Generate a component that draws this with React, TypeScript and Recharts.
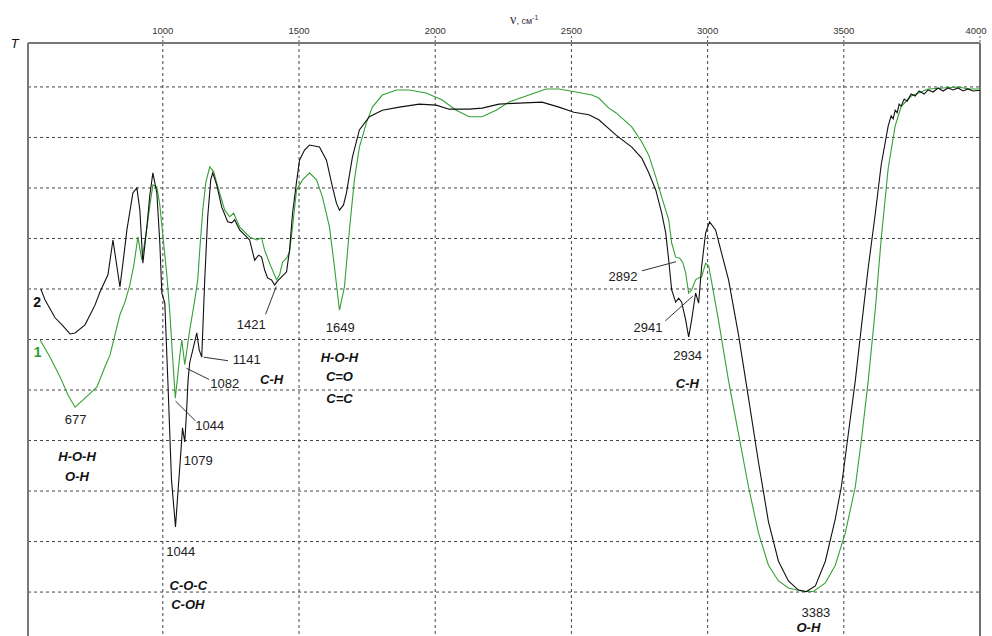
import React from 'react';
import { LineChart, Line, XAxis, YAxis, ReferenceLine, ReferenceDot } from 'recharts';

// Sample 2 (black) – wavenumber, cm-1
const sample2W = [552, 567.8, 604.4, 630, 659.3, 677.6, 714.3, 750.9, 769.2, 798.5, 816.9, 842.5, 857.1, 868.1, 890.1, 904.7, 915.7, 926.7, 941.4, 952.4, 963.4, 978, 989, 996.3, 1007.3, 1018.3, 1031.8, 1046.5, 1056, 1065.9, 1072.2, 1080.6, 1086.8, 1092.7, 1098.9, 1109.9, 1124.6, 1133.7, 1142.8, 1153.8, 1164.8, 1175.8, 1183.2, 1197.8, 1216.2, 1238.1, 1252.8, 1263.7, 1282, 1300.4, 1318.7, 1337, 1351.6, 1362.6, 1373.6, 1384.6, 1399.3, 1410.3, 1424.9, 1439.6, 1454.2, 1465.2, 1476.2, 1490.9, 1501.8, 1520.2, 1538.5, 1575.1, 1600.7, 1622.7, 1637.3, 1648.4, 1663, 1674, 1696, 1721.6, 1758.2, 1805.9, 1868.1, 1941.4, 2003.6, 2051.3, 2124.5, 2172.2, 2234.4, 2307.7, 2392, 2454.2, 2509.2, 2564.1, 2600.7, 2663, 2721.6, 2758.3, 2783.9, 2809.6, 2831.5, 2846.2, 2857.2, 2868.1, 2882.8, 2893.8, 2904.7, 2919.4, 2930.4, 2941.4, 2956, 2967, 2978, 2992.7, 3007.3, 3029.3, 3051.3, 3076.9, 3113.5, 3150.2, 3186.8, 3223.4, 3260.1, 3296.7, 3333.3, 3362.6, 3395.6, 3432.2, 3468.8, 3490.9, 3516.5, 3542.1, 3564.1, 3589.6, 3615.3, 3637.3, 3663, 3674, 3681.3, 3688.6, 3695.9, 3703.3, 3710.6, 3721.6, 3732.5, 3747.3, 3761.9, 3776.6, 3794.9, 3809.6, 3827.9, 3846.2, 3864.5, 3882.8, 3901.2, 3919.5, 3937.7, 3956.1, 3974.4, 3992.7, 4000];
// Sample 2 (black) – transmittance
const sample2T = [60, 57.8, 54.3, 52.9, 51.1, 51.3, 52.9, 56.8, 59.4, 62.8, 69.7, 60.4, 66.7, 71.7, 79, 80, 75.6, 65.1, 72.3, 78.6, 83, 79, 69.1, 59.2, 57.2, 42, 22.2, 12.9, 20.2, 27.5, 32.5, 29.7, 35.4, 42, 45.5, 47.9, 51.3, 47.9, 46.5, 61.8, 74.3, 81.6, 83, 80.6, 76.2, 73.3, 73.1, 73.7, 71.7, 70.7, 69.7, 65.7, 66.7, 66.3, 63.8, 62.2, 61.8, 60.8, 61.8, 62.6, 63.4, 67.7, 75, 81.2, 85.5, 87.5, 88.5, 88.1, 85.5, 80.2, 77, 75.6, 76.6, 79, 86.1, 91.5, 94.1, 95.4, 96, 96.6, 96.4, 95.6, 95.6, 95.8, 96.6, 96.8, 97, 96, 95, 94.5, 93.5, 90.5, 88.1, 85.9, 83, 79.6, 75, 71.1, 65.7, 59.8, 57.4, 58.2, 57.4, 53.9, 50.5, 53.9, 59.2, 57.2, 64.4, 71.1, 73.3, 71.7, 67.1, 61.8, 50.9, 38.4, 25.7, 13.9, 6.1, 2.2, 0.4, 0.1, 1.2, 6.1, 14.5, 20.8, 31.3, 41.8, 52.3, 64.2, 74.8, 84.6, 92.3, 94.3, 93.7, 95.4, 94.9, 96.6, 96.2, 97.6, 97.2, 98.6, 98.2, 99.2, 98.6, 99.4, 99, 99.8, 99.2, 99.8, 99.4, 99.8, 99.2, 99.6, 99.2, 99.3, 99.3];

// Sample 1 (green) – wavenumber, cm-1
const sample1W = [549.4, 586.1, 622.7, 652, 677.6, 714.3, 758.2, 787.5, 805.9, 824.2, 842.5, 860.8, 879.1, 893.8, 908.4, 923.1, 941.4, 952.4, 963.4, 978, 989, 1000, 1014.6, 1025.6, 1036.6, 1045.8, 1055, 1062.3, 1069.6, 1080.6, 1098.9, 1117.2, 1128.2, 1135.5, 1146.5, 1157.5, 1172.2, 1186.8, 1197.8, 1227.1, 1245.4, 1260.1, 1282, 1318.7, 1344.3, 1362.6, 1373.6, 1392, 1417.6, 1428.6, 1439.6, 1454.2, 1465.2, 1476.2, 1490.9, 1512.9, 1538.5, 1564.1, 1586.1, 1611.7, 1630, 1648.4, 1666.7, 1685, 1703.3, 1721.6, 1747.3, 1769.2, 1805.9, 1857.2, 1904.7, 1967, 2025.6, 2076.9, 2124.5, 2172.2, 2223.4, 2271.1, 2344.3, 2406.6, 2454.2, 2516.5, 2575.1, 2600.7, 2637.4, 2663, 2721.6, 2758.3, 2783.9, 2809.6, 2831.5, 2857.2, 2868.1, 2882.8, 2897.4, 2908.4, 2919.4, 2930.4, 2941.4, 2956, 2967, 2978, 2992.7, 3003.7, 3014.7, 3040.3, 3076.9, 3113.5, 3150.2, 3186.8, 3223.4, 3260.1, 3296.7, 3351.6, 3388.3, 3432.2, 3468.8, 3505.5, 3542.1, 3564.1, 3589.6, 3615.3, 3637.3, 3663, 3688.6, 3710.6, 3747.3, 3809.6, 3864.5, 3919.4, 3960, 4000];
// Sample 1 (green) – transmittance
const sample1T = [49.9, 46.5, 42.6, 39, 36.6, 38.4, 40.6, 44.6, 46.9, 50.9, 54.9, 57.4, 60.8, 64.8, 70.3, 65.7, 72.1, 76.6, 80.6, 80.2, 76.6, 70.7, 62.8, 55.4, 45.9, 38.4, 43, 46.9, 49.9, 45, 51.9, 57.8, 61.8, 67.7, 75.6, 81, 84.2, 83.2, 81, 75.6, 74.3, 75, 72.3, 70.3, 69.7, 70.1, 67.7, 65.1, 61.8, 62.8, 65.3, 66.1, 67.3, 72.3, 79.6, 81.6, 83, 81.6, 78.2, 72.3, 64.4, 55.8, 60.4, 71.7, 81.6, 88.1, 92.9, 96, 98.4, 99.4, 99.4, 98.8, 97.4, 95.4, 94.1, 94.1, 95.4, 97, 98.4, 99.6, 99.6, 99, 98.4, 97.8, 95.8, 94.9, 92.1, 89.1, 86.5, 82.2, 78.2, 73.7, 69.1, 66.3, 66.1, 65.3, 63.2, 59.2, 59.8, 61.8, 62.2, 62.4, 65.1, 64.6, 61.4, 53.7, 41.8, 31.3, 20.8, 11.7, 5.3, 2.2, 0.8, 0.1, 0.1, 1.8, 5.3, 11.7, 20.8, 29.9, 41.8, 55.8, 69.9, 83.9, 92.3, 96.1, 98.2, 99.6, 99.8, 100, 99.6, 99.6];

const xTicks = [1000, 1500, 2000, 2500, 3000, 3500, 4000];
const xGrid = [1000, 1500, 2000, 2500, 3000, 3500];
const yGrid = [0, 10, 20, 30, 40, 50, 60, 70, 80, 90, 100];

const X_MIN = 505;
const X_MAX = 4000;
const Y_MIN = -8.7;
const Y_MAX = 108.7;

// Peak wavenumber labels
const peakLabels = [
  { text: '677', w: 679.5, t: 34.1 },
  { text: '1044', w: 1172.2, t: 32.9 },
  { text: '1079', w: 1130, t: 26.1 },
  { text: '1044', w: 1065.9, t: 8.0 },
  { text: '1082', w: 1227.1, t: 41.3 },
  { text: '1141', w: 1307.7, t: 46.1 },
  { text: '1421', w: 1324.9, t: 53.0 },
  { text: '1649', w: 1651.3, t: 52.4 },
  { text: '2892', w: 2689.3, t: 62.4 },
  { text: '2941', w: 2780.9, t: 52.4 },
  { text: '2934', w: 2926.7, t: 46.8 },
  { text: '3383', w: 3397.5, t: -4.1 },
];

// Bond assignment labels
const bondLabels = [
  { text: 'H-O-H', w: 685, t: 26.8 },
  { text: 'O-H', w: 685, t: 22.8 },
  { text: 'C-O-C', w: 1093.4, t: 1.25 },
  { text: 'C-OH', w: 1091.6, t: -2.4 },
  { text: 'C-H', w: 1399.3, t: 42.0 },
  { text: 'H-O-H', w: 1648.4, t: 46.5 },
  { text: 'C=O', w: 1648.4, t: 42.6 },
  { text: 'C=C', w: 1648.4, t: 38.4 },
  { text: 'C-H', w: 2925.6, t: 41.3 },
  { text: 'O-H', w: 3370, t: -7.0 },
];

// Leader lines from peaks to labels
const leaders = [
  { w1: 1046.5, t1: 37.8, w2: 1119.7, t2: 33.9 },
  { w1: 1086.8, t1: 44.3, w2: 1169.6, t2: 42.1 },
  { w1: 1150.2, t1: 46.5, w2: 1239.2, t2: 45.8 },
  { w1: 1416.4, t1: 60.5, w2: 1377.3, t2: 55.0 },
  { w1: 2759.4, t1: 63.6, w2: 2884.0, t2: 65.4 },
  { w1: 2845.0, t1: 53.7, w2: 2946.0, t2: 58.6 },
];

// Series name labels
const seriesLabels = [
  { text: '2', w: 538.5, t: 57.5, color: '#111111' },
  { text: '1', w: 540.3, t: 47.6, color: '#2f9a2f' },
];

const sample2 = sample2W.map((w, i) => ({ w, t: sample2T[i] }));
const sample1 = sample1W.map((w, i) => ({ w, t: sample1T[i] }));

const SANS = '"Liberation Sans", Arial, sans-serif';

const renderTick = (p: any) => (
  <text x={p.x} y={p.y} textAnchor="middle" fontSize={9.5} fill="#333" fontFamily={SANS}>
    {p.payload.value}
  </text>
);

export default function App() {
  return (
    <div style={{ position: 'absolute', left: 0, top: 0, width: 992, height: 636, background: '#fff' }}>
      <LineChart width={992} height={636} margin={{ top: 13, right: 12, bottom: 0, left: 28 }}>
        <XAxis
          xAxisId={0}
          dataKey="w"
          type="number"
          orientation="top"
          domain={[X_MIN, X_MAX]}
          ticks={xTicks}
          allowDataOverflow
          height={30}
          tickSize={7}
          tickMargin={2}
          tick={renderTick}
          tickLine={{ stroke: '#555', strokeDasharray: '2 2' }}
          axisLine={{ stroke: '#777', strokeWidth: 2 }}
        />
        <YAxis yAxisId={0} hide type="number" domain={[Y_MIN, Y_MAX]} allowDataOverflow />
        {yGrid.map((v) => (
          <ReferenceLine key={'h' + v} y={v} stroke="#444" strokeDasharray="3 3" strokeWidth={1} ifOverflow="visible" />
        ))}
        {xGrid.map((v) => (
          <ReferenceLine key={'v' + v} x={v} stroke="#444" strokeDasharray="3 3" strokeWidth={1} ifOverflow="visible" />
        ))}
        <ReferenceLine x={X_MIN} stroke="#777" strokeWidth={2} ifOverflow="visible" />
        <ReferenceLine x={X_MAX} stroke="#111" strokeWidth={1.2} ifOverflow="visible" />
        <Line
          data={sample1}
          dataKey="t"
          type="linear"
          stroke="#35a035"
          strokeWidth={1.1}
          dot={false}
          isAnimationActive={false}
        />
        <Line
          data={sample2}
          dataKey="t"
          type="linear"
          stroke="#111"
          strokeWidth={1.1}
          dot={false}
          isAnimationActive={false}
        />
        {leaders.map((l, i) => (
          <ReferenceLine
            key={'l' + i}
            segment={[{ x: l.w1, y: l.t1 }, { x: l.w2, y: l.t2 }]}
            stroke="#333"
            strokeWidth={1}
            ifOverflow="visible"
          />
        ))}
        {peakLabels.map((l, i) => (
          <ReferenceDot
            key={'p' + i}
            x={l.w}
            y={l.t}
            r={0}
            ifOverflow="visible"
            shape={(p: any) => (
              <text x={p.cx} y={p.cy} textAnchor="middle" dominantBaseline="central" fontSize={13} fill="#222" fontFamily={SANS}>
                {l.text}
              </text>
            )}
          />
        ))}
        {bondLabels.map((l, i) => (
          <ReferenceDot
            key={'b' + i}
            x={l.w}
            y={l.t}
            r={0}
            ifOverflow="visible"
            shape={(p: any) => (
              <text x={p.cx} y={p.cy} textAnchor="middle" dominantBaseline="central" fontSize={13} fontWeight="bold" fontStyle="italic" fill="#111" fontFamily={SANS}>
                {l.text}
              </text>
            )}
          />
        ))}
        {seriesLabels.map((l, i) => (
          <ReferenceDot
            key={'s' + i}
            x={l.w}
            y={l.t}
            r={0}
            ifOverflow="visible"
            shape={(p: any) => (
              <text x={p.cx} y={p.cy} textAnchor="middle" dominantBaseline="central" fontSize={14} fontWeight="bold" fill={l.color} fontFamily={SANS}>
                {l.text}
              </text>
            )}
          />
        ))}
        <ReferenceDot
          x={456}
          y={107.7}
          r={0}
          ifOverflow="visible"
          shape={(p: any) => (
            <text x={p.cx} y={p.cy} textAnchor="middle" fontSize={13} fontStyle="italic" fill="#111" fontFamily={SANS}>
              T
            </text>
          )}
        />
        <ReferenceDot
          x={2274.7}
          y={112.5}
          r={0}
          ifOverflow="visible"
          shape={(p: any) => (
            <text x={p.cx} y={p.cy} textAnchor="start" fill="#333">
              <tspan fontSize={14} fontFamily='"Liberation Serif", serif'>ν</tspan>
              <tspan fontSize={9} fontFamily={SANS} fill="#3a2c4a">, см</tspan>
              <tspan fontSize={7} fontFamily={SANS} fill="#3a2c4a" dy={-4}>-1</tspan>
            </text>
          )}
        />
      </LineChart>
    </div>
  );
}
